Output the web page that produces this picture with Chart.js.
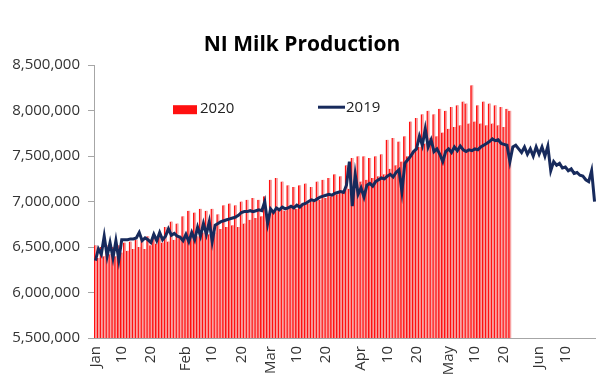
<!DOCTYPE html>
<html lang="en">
<head>
<meta charset="UTF-8">
<title>NI Milk Production</title>
<script src="https://cdn.jsdelivr.net/npm/chart.js"></script>
<style>
  html, body { margin: 0; padding: 0; background: #fff; }
  .chart-box { position: relative; width: 596px; height: 385px; }
</style>
</head>
<body>
<div class="chart-box"><canvas id="milkChart" width="596" height="385"></canvas></div>
<script>
// calendar used for the x categories (2020 is a leap year)
const monthNames = ['Jan', 'Feb', 'Mar', 'Apr', 'May', 'Jun'];
const monthDays = [31, 29, 31, 30, 31, 20];
const tickDays = [1, 10, 20];
const yTickValues = [5500000, 6000000, 6500000, 7000000, 7500000, 8000000, 8500000];

// daily litres, 2020 (Jan 1 - May 22)
const milk2020 = [
  6520000, 6380000, 6500000, 6400000, 6520000, 6420000, 6500000, 6400000, 6520000, 6440000, 6550000,
  6460000, 6560000, 6480000, 6580000, 6500000, 6600000, 6480000, 6620000, 6520000, 6640000, 6540000,
  6660000, 6550000, 6720000, 6560000, 6780000, 6580000, 6760000, 6600000, 6840000,
  6620000, 6900000, 6640000, 6880000, 6620000, 6920000, 6660000, 6900000, 6640000, 6920000, 6660000,
  6860000, 6700000, 6960000, 6720000, 6980000, 6740000, 6960000, 6720000, 7000000, 6760000, 7020000,
  6800000, 7040000, 6820000, 7020000, 6840000, 7060000, 6860000,
  7240000, 6880000, 7260000, 6920000, 7220000, 6900000, 7180000, 6940000, 7160000, 6920000, 7180000,
  6960000, 7200000, 6980000, 7160000, 7000000, 7220000, 7020000, 7240000, 7040000, 7260000, 7060000,
  7300000, 7080000, 7280000, 7100000, 7400000, 7140000, 7480000, 7180000, 7500000,
  7220000, 7500000, 7240000, 7480000, 7260000, 7500000, 7280000, 7520000, 7300000, 7680000, 7360000,
  7700000, 7400000, 7660000, 7440000, 7720000, 7500000, 7880000, 7560000, 7920000, 7600000, 7960000,
  7640000, 8000000, 7700000, 7960000, 7720000, 8020000, 7760000, 8000000,
  7800000, 8040000, 7820000, 8060000, 7840000, 8100000, 8080000, 7860000, 8280000, 7880000, 8060000,
  7860000, 8100000, 7840000, 8080000, 7860000, 8060000, 7840000, 8040000, 7820000, 8020000, 8000000
];

// daily litres, 2019 (Jan 1 - Jun 20)
const milk2019 = [
  6350000, 6480000, 6420000, 6620000, 6400000, 6550000, 6380000, 6570000, 6360000, 6580000, 6580000,
  6580000, 6590000, 6590000, 6600000, 6660000, 6570000, 6600000, 6580000, 6550000, 6640000, 6570000,
  6660000, 6580000, 6620000, 6700000, 6630000, 6650000, 6620000, 6610000, 6570000,
  6640000, 6560000, 6660000, 6580000, 6720000, 6620000, 6760000, 6640000, 6780000, 6560000, 6740000,
  6760000, 6780000, 6790000, 6800000, 6810000, 6820000, 6830000, 6850000, 6880000, 6890000, 6890000,
  6900000, 6890000, 6900000, 6910000, 6900000, 7000000, 6760000,
  6920000, 6880000, 6930000, 6910000, 6940000, 6920000, 6930000, 6950000, 6930000, 6960000, 6940000,
  6970000, 6980000, 7000000, 7020000, 7010000, 7030000, 7050000, 7060000, 7070000, 7080000, 7070000,
  7090000, 7100000, 7110000, 7100000, 7180000, 7440000, 6950000, 7300000, 7080000,
  7150000, 7050000, 7180000, 7200000, 7170000, 7220000, 7240000, 7260000, 7250000, 7280000, 7300000,
  7270000, 7320000, 7350000, 7110000, 7420000, 7460000, 7500000, 7550000, 7580000, 7720000, 7620000,
  7800000, 7600000, 7680000, 7550000, 7580000, 7520000, 7440000, 7550000,
  7580000, 7540000, 7600000, 7560000, 7610000, 7570000, 7550000, 7570000, 7560000, 7580000, 7570000,
  7600000, 7620000, 7640000, 7660000, 7690000, 7670000, 7680000, 7640000, 7630000, 7620000, 7440000,
  7600000, 7620000, 7580000, 7540000, 7600000, 7520000, 7580000, 7500000, 7600000,
  7520000, 7600000, 7500000, 7610000, 7340000, 7440000, 7400000, 7420000, 7370000, 7380000, 7340000,
  7360000, 7310000, 7320000, 7290000, 7280000, 7240000, 7220000, 7340000, 7000000
];

const dayLabels = [];
monthNames.forEach((m, i) => {
  for (let d = 1; d <= monthDays[i]; d++) dayLabels.push(m + ' ' + d);
});

const FONT = '"Open Sans", "Liberation Sans", sans-serif';
const RED = '#ff1010';
const PINK = '#f7a3a3';
const NAVY = '#172a5c';

// legend sits inside the plot, drawn by hand
const insideLegend = {
  id: 'insideLegend',
  afterDraw(chart) {
    const { ctx, chartArea } = chart;
    const y = chartArea.top + 43;
    ctx.save();
    ctx.font = '15px ' + FONT;
    ctx.textBaseline = 'middle';
    ctx.fillStyle = RED;
    ctx.fillRect(chartArea.left + 79, y - 3, 24, 9);
    ctx.fillStyle = '#222';
    ctx.fillText(chart.data.datasets[1].label, chartArea.left + 106, y + 1);
    ctx.strokeStyle = NAVY;
    ctx.lineWidth = 3;
    ctx.beginPath();
    ctx.moveTo(chartArea.left + 224, y - 1);
    ctx.lineTo(chartArea.left + 251, y - 1);
    ctx.stroke();
    ctx.fillText(chart.data.datasets[0].label, chartArea.left + 252, y);
    ctx.restore();
  }
};

new Chart(document.getElementById('milkChart'), {
  type: 'bar',
  data: {
    labels: dayLabels,
    datasets: [
      {
        type: 'line',
        label: '2019',
        data: milk2019,
        borderColor: NAVY,
        borderWidth: 3,
        pointRadius: 0,
        tension: 0,
        order: 0
      },
      {
        label: '2020',
        data: milk2020,
        // thin red edge on each pale column gives the striped look
        backgroundColor: PINK,
        borderColor: RED,
        borderWidth: { left: 1.6, right: 0, top: 0, bottom: 0 },
        borderSkipped: false,
        barPercentage: 1,
        categoryPercentage: 1,
        order: 1
      }
    ]
  },
  options: {
    responsive: false,
    animation: false,
    layout: { padding: { left: 8, right: 0, top: 0, bottom: 0 } },
    plugins: {
      legend: { display: false },
      tooltip: { enabled: false },
      title: {
        display: true,
        text: 'NI Milk Production',
        color: '#000',
        font: { family: FONT, size: 21, weight: 'bold' },
        padding: { top: 32, bottom: 8 }
      }
    },
    scales: {
      x: {
        offset: true,
        grid: { display: false, drawTicks: false },
        border: { color: '#a6a6a6' },
        ticks: {
          autoSkip: false,
          maxRotation: 90,
          minRotation: 90,
          padding: 8,
          color: '#333',
          font: { family: FONT, size: 15 },
          callback(value, index) {
            // the last, partial day of June gets no label
            if (index === dayLabels.length - 1) return '';
            const [m, d] = dayLabels[index].split(' ');
            if (d === '1') return m;
            return tickDays.includes(+d) ? d : '';
          }
        },
        afterFit(scale) {
          scale.height = 47;
          // let the plot run to the right edge
          scale.paddingRight = 0;
        }
      },
      y: {
        min: yTickValues[0],
        max: yTickValues[yTickValues.length - 1],
        afterBuildTicks(scale) { scale.ticks = yTickValues.map(v => ({ value: v })); },
        grid: { drawOnChartArea: false, tickLength: 6, color: '#a6a6a6' },
        border: { color: '#a6a6a6' },
        ticks: {
          padding: 8,
          color: '#333',
          font: { family: FONT, size: 15 },
          callback: v => v.toLocaleString('en-US')
        },
        afterFit(scale) { scale.width = 86; }
      }
    }
  },
  plugins: [insideLegend]
});
</script>
</body>
</html>
